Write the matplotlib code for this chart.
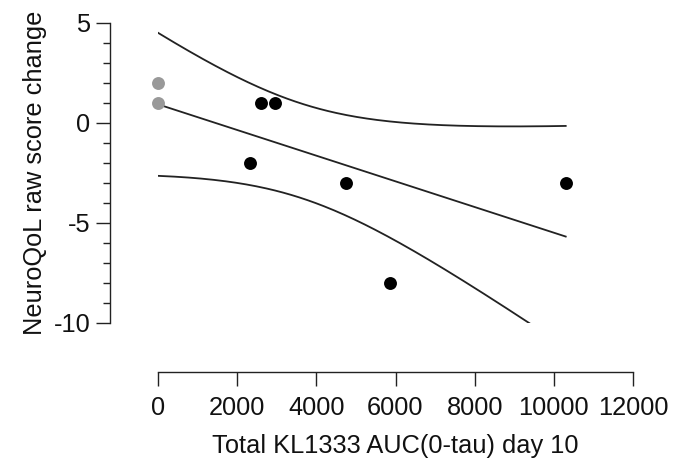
import numpy as np
import matplotlib
matplotlib.use("Agg")
import matplotlib.pyplot as plt
from matplotlib.ticker import MultipleLocator

# Data
x_gray = [0, 0]
y_gray = [2, 1]
x_black = [2320, 2600, 2950, 4750, 5860, 10300]
y_black = [-2, 1, 1, -3, -8, -3]
x_ticks = [0, 2000, 4000, 6000, 8000, 10000, 12000]
y_ticks = [-10, -5, 0, 5]
t_crit = 2.447  # 95% two-sided t, df = 6

x_all = np.array(x_gray + x_black, dtype=float)
y_all = np.array(y_gray + y_black, dtype=float)
n = len(x_all)
slope, intercept = np.polyfit(x_all, y_all, 1)
resid = y_all - (slope * x_all + intercept)
s = np.sqrt(np.sum(resid ** 2) / (n - 2))
sxx = np.sum((x_all - x_all.mean()) ** 2)
xf = np.linspace(x_all.min(), x_all.max(), 200)
yf = slope * xf + intercept
se = s * np.sqrt(1.0 / n + (xf - x_all.mean()) ** 2 / sxx)
upper = yf + t_crit * se
lower = yf - t_crit * se

plt.rcParams['font.family'] = ['Liberation Sans', 'DejaVu Sans']
plt.rcParams['axes.unicode_minus'] = False
fig = plt.figure(figsize=(6.73, 4.63), dpi=100)
ax = fig.add_axes([158 / 673, 140 / 463, (633 - 158) / 673, 300 / 463])

lc = '#222222'
ax.plot(xf, yf, color=lc, lw=1.3)
ax.plot(xf, upper, color=lc, lw=1.3)
ax.plot(xf, lower, color=lc, lw=1.3)
ax.plot(x_gray, y_gray, 'o', color='#999999', ms=9.3, mec='none', clip_on=False, zorder=3)
ax.plot(x_black, y_black, 'o', color='black', ms=9.3, mec='none', clip_on=False, zorder=3)

ax.set_xlim(0, 12000)
ax.set_ylim(-10, 5)
ax.set_xticks(x_ticks)
ax.set_yticks(y_ticks)
ax.yaxis.set_minor_locator(MultipleLocator(1))

for sp in ['top', 'right']:
    ax.spines[sp].set_visible(False)
ax.spines['left'].set_position(('outward', 48 * 0.72))
ax.spines['bottom'].set_position(('outward', 49 * 0.72))
for sp in ['left', 'bottom']:
    ax.spines[sp].set_linewidth(1.0)
    ax.spines[sp].set_color(lc)

fs = 18.3
ax.tick_params(axis='both', which='major', length=10, width=1.0, color=lc,
               labelsize=fs, labelcolor='#111111')
ax.tick_params(axis='x', which='major', pad=7)
ax.tick_params(axis='y', which='major', pad=4)
ax.tick_params(axis='y', which='minor', length=5, width=1.0, color=lc)

ax.set_xlabel('Total KL1333 AUC(0-tau) day 10', fontsize=fs, color='#111111', labelpad=10)
ax.set_ylabel('NeuroQoL raw score change', fontsize=fs, color='#111111', labelpad=5)

fig.savefig('out.png', dpi=100)
